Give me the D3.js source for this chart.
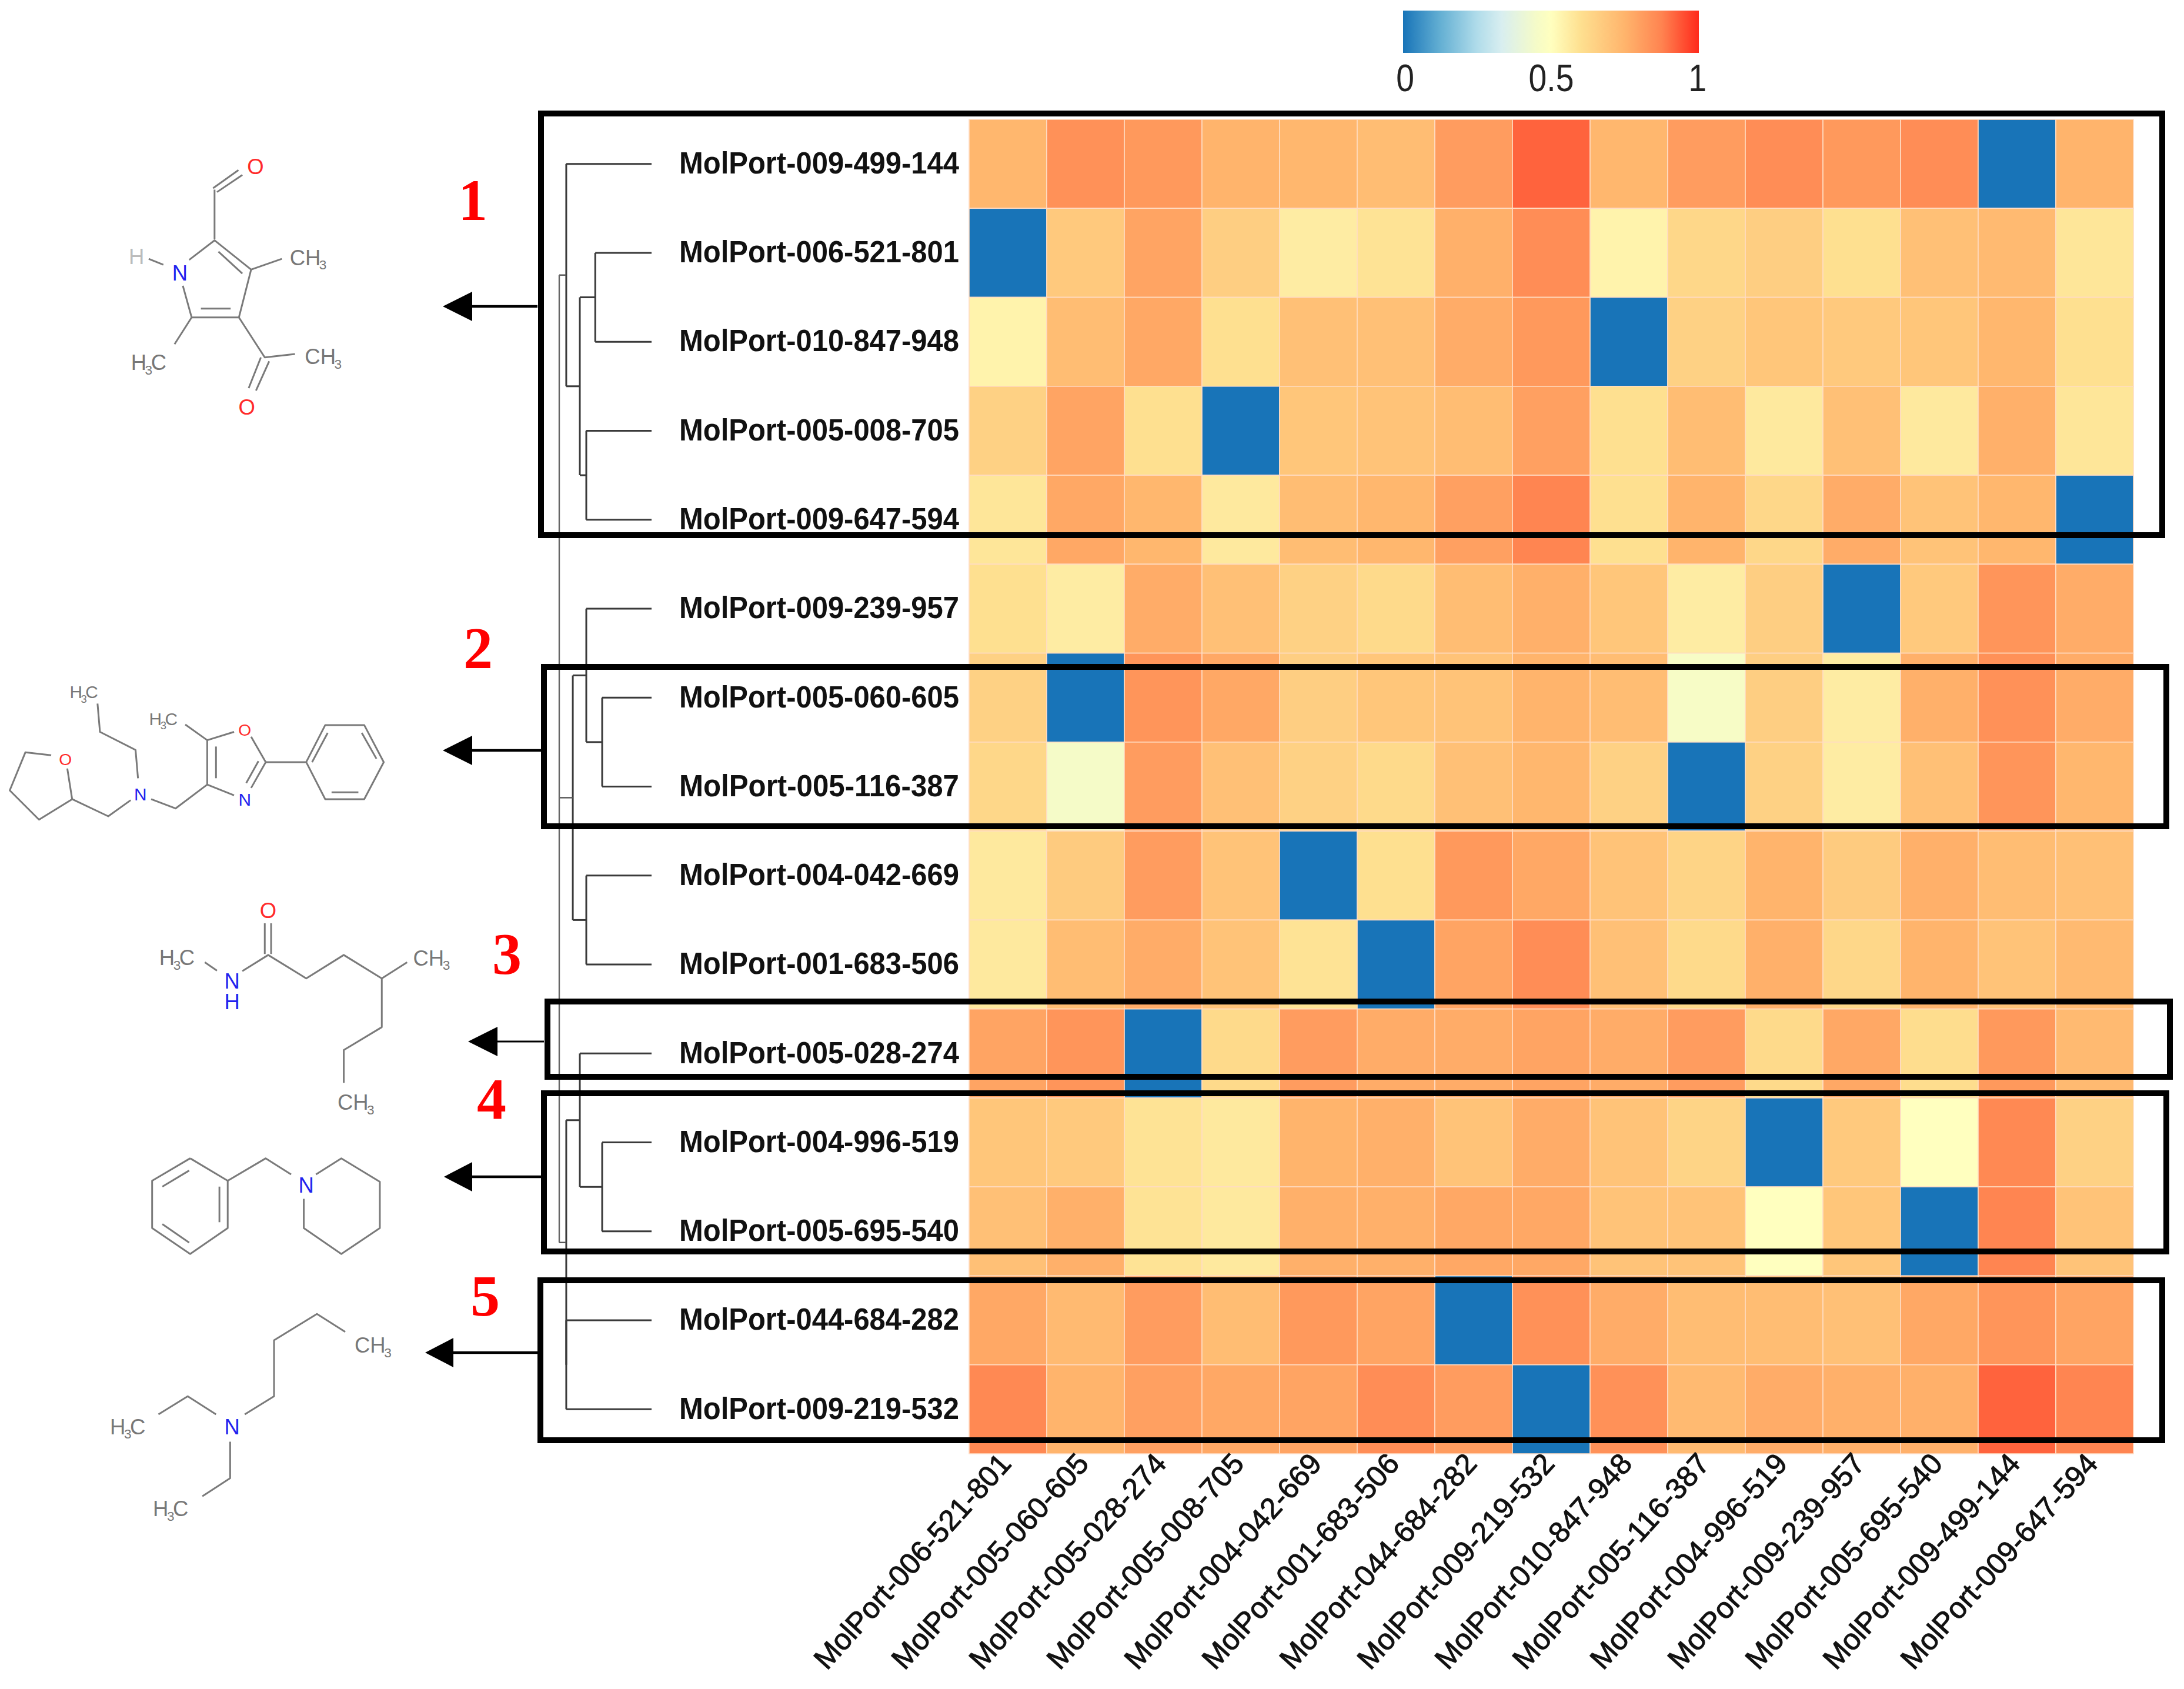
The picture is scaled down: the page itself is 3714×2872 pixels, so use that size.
<!DOCTYPE html>
<html><head><meta charset="utf-8">
<script src="https://cdnjs.cloudflare.com/ajax/libs/d3/7.8.5/d3.min.js"></script>
<style>html,body{margin:0;padding:0;background:#fff}svg{display:block}</style>
</head><body><svg id="c" width="3714" height="2872"></svg>
<script>
const rowLabels=["MolPort-009-499-144","MolPort-006-521-801","MolPort-010-847-948","MolPort-005-008-705","MolPort-009-647-594","MolPort-009-239-957","MolPort-005-060-605","MolPort-005-116-387","MolPort-004-042-669","MolPort-001-683-506","MolPort-005-028-274","MolPort-004-996-519","MolPort-005-695-540","MolPort-044-684-282","MolPort-009-219-532"];
const colLabels=["MolPort-006-521-801","MolPort-005-060-605","MolPort-005-028-274","MolPort-005-008-705","MolPort-004-042-669","MolPort-001-683-506","MolPort-044-684-282","MolPort-009-219-532","MolPort-010-847-948","MolPort-005-116-387","MolPort-004-996-519","MolPort-009-239-957","MolPort-005-695-540","MolPort-009-499-144","MolPort-009-647-594"];
const values=[
[.74,.84,.82,.75,.74,.72,.81,.92,.74,.81,.85,.82,.85,0,.75],
[0,.68,.79,.66,.56,.59,.76,.85,.54,.63,.66,.6,.71,.73,.58],
[.54,.72,.78,.6,.71,.71,.77,.82,0,.65,.69,.68,.69,.74,.6],
[.65,.79,.6,0,.69,.7,.72,.8,.6,.72,.57,.71,.57,.76,.58],
[.58,.78,.74,.57,.72,.74,.8,.87,.6,.75,.63,.77,.7,.74,0],
[.6,.56,.77,.71,.65,.62,.72,.76,.69,.56,.66,0,.68,.83,.77],
[.65,0,.83,.78,.66,.69,.7,.75,.72,.46,.66,.56,.76,.84,.77],
[.63,.45,.81,.71,.65,.62,.71,.74,.65,0,.65,.56,.71,.83,.74],
[.57,.67,.81,.7,0,.6,.82,.78,.7,.64,.75,.67,.76,.72,.71],
[.57,.72,.77,.7,.59,0,.79,.85,.71,.62,.76,.63,.75,.7,.73],
[.79,.83,0,.62,.81,.77,.77,.79,.77,.81,.62,.78,.61,.82,.73],
[.69,.68,.59,.57,.75,.76,.7,.77,.7,.64,0,.68,.5,.86,.65],
[.71,.76,.59,.57,.76,.76,.78,.78,.7,.7,.5,.69,0,.87,.7],
[.78,.73,.81,.72,.82,.79,0,.84,.77,.72,.72,.71,.78,.83,.79],
[.86,.75,.8,.78,.79,.85,.81,0,.84,.73,.77,.76,.76,.92,.87]];
const colorStops=[0,.125,.25,.333,.45,.5,.6,.75,.875,1];
const colorRange=["#1874b8","#63afd3","#b0dcea","#d8eef0","#f5fbc8","#ffffbf","#fee090","#ffb46c","#ff8350","#ff2a1c"];
const legendTicks=[0,.5,1];
// dendrogram: [height, ...children]; a plain number is a row index
const tree=[1,
 [.924,0,[.777,[.61,1,2],[.707,3,4]]],
 [.853,[.707,5,[.535,6,7]],[.707,8,9]],
 [.924,[.777,10,[.535,11,12]],[.924,13,14]]];
const clusterNames=["1","2","3","4","5"];
const clusterBoxes=[[920,193,3677,910],[925,1134,3684,1405],[931,1703,3690,1831],[925,1859,3684,2128],[919,2177,3677,2449]];
const clusterNumbers=[[804,374],[813,1135],[862,1655],[836,1902],[825,2237]];
const clusterArrows=[[753,803,914,521,4.5],[753,803,925,1276,4.5],[796,846,925,1771,3],[755,803,920,2001,4.5],[723,771,915,2300,4.5]];

const svg=d3.select("#c");
const X=d3.scaleBand().domain(d3.range(colLabels.length)).range([1648,3628]);
const Y=d3.scaleBand().domain(d3.range(rowLabels.length)).range([203,2472]);
const color=d3.scaleLinear().domain(colorStops).range(colorRange).clamp(true);
const defs=svg.append("defs");

// heatmap
const cells=values.flatMap((r,i)=>r.map((v,j)=>({i,j,v})));
svg.append("g").selectAll("rect").data(cells).join("rect")
 .attr("x",d=>X(d.j)).attr("y",d=>Y(d.i)).attr("width",X.bandwidth()).attr("height",Y.bandwidth())
 .attr("fill",d=>color(d.v)).attr("stroke","#ffdcc4").attr("stroke-width",1.6);

// row labels
const rowAxis=d3.axisLeft(d3.scaleBand().domain(rowLabels).range(Y.range())).tickSize(0).tickPadding(0);
const ra=svg.append("g").attr("transform","translate(1155,0)").call(rowAxis);
ra.select(".domain").remove();
ra.selectAll("text").attr("font-family","Liberation Sans").attr("font-weight","bold").attr("font-size",51).attr("fill","#111")
 .attr("text-anchor","start").attr("x",0)
 .attr("textLength",476).attr("lengthAdjust","spacingAndGlyphs");

// column labels
const colAxis=d3.axisBottom(d3.scaleBand().domain(colLabels).range(X.range())).tickSize(0).tickPadding(0);
const ca=svg.append("g").attr("transform","translate(0,2472)").call(colAxis);
ca.select(".domain").remove();
ca.selectAll("text").attr("font-family","Liberation Sans").attr("font-size",50).attr("fill","#111")
 .attr("stroke","#111").attr("stroke-width",1)
 .attr("text-anchor","end").attr("y",0).attr("dy",".35em")
 .attr("textLength",472).attr("lengthAdjust","spacingAndGlyphs")
 .attr("transform","translate(-5,7) rotate(-48)");

// dendrogram
const H=d3.scaleLinear().domain([0,1]).range([1108,951]);
const dg=svg.append("g").attr("fill","none").attr("stroke","#3a3a3a").attr("stroke-width",3);
function layout(n){
 if(typeof n==="number") return {h:0,y:Y(n)+Y.bandwidth()/2};
 const kids=n.slice(1).map(layout);
 const ys=kids.map(k=>k.y);
 const h=n[0];
 const isRoot=n===tree;
 kids.forEach(k=>dg.append("path").attr("d",`M${H(k.h)},${k.y}H${H(h)}`).attr("stroke-width",isRoot?2.4:3).attr("stroke",isRoot?"#555":"#3a3a3a"));
 dg.append("path").attr("d",`M${H(h)},${d3.min(ys)}V${d3.max(ys)}`).attr("stroke-width",isRoot?2.4:3).attr("stroke",isRoot?"#666":"#3a3a3a");
 return {h,y:(d3.min(ys)+d3.max(ys))/2};
}
layout(tree);

// colour legend
const grad=defs.append("linearGradient").attr("id","lg");
colorStops.forEach((s,i)=>grad.append("stop").attr("offset",s).attr("stop-color",colorRange[i]));
const L=d3.scaleLinear().domain([0,1]).range([2389,2886]);
svg.append("rect").attr("x",2386).attr("y",18).attr("width",503).attr("height",72).attr("fill","url(#lg)");
const la=svg.append("g").attr("transform","translate(0,155)").call(d3.axisBottom(L).tickValues(legendTicks).tickFormat(d3.format("")).tickSize(0).tickPadding(0));
la.select(".domain").remove();
la.selectAll("text").attr("font-family","Liberation Sans").attr("font-size",65).attr("fill","#222").attr("y",0).attr("dy",0)
 .attr("text-anchor","middle").attr("transform","scale(.85,1)");

// molecules, in a drawing space scaled to the page
const S=1/1.206;
const atomColor={O:"#ff2a2a",N:"#2222ee",H:"#bbb",C:"#777"};
function mol(oy,bonds,atoms){
 const g=svg.append("g").attr("transform",`translate(0,${oy}) scale(${S})`);
 const line=d3.line();
 g.selectAll("path").data(bonds).join("path").attr("d",d=>line(d)).attr("fill","none").attr("stroke","#7a7a7a").attr("stroke-width",3.6).attr("stroke-linejoin","round");
 atoms.forEach(([x,y,t,c,fs])=>{
  const size=fs||44;
  const tx=g.append("text").attr("x",x).attr("y",y+size*.36).attr("text-anchor","middle").attr("font-family","Liberation Sans").attr("font-size",size).attr("fill",atomColor[c]);
  let down=false;
  t.split(/(\d)/).filter(s=>s).forEach((p,i)=>{
   if(/\d/.test(p)){ tx.append("tspan").attr("font-size",size*.62).attr("dy",9).attr("dx",-3).text(p); down=true; }
   else { const sp=tx.append("tspan").text(p); if(down){sp.attr("dy",-9).attr("dx",-3); down=false;} }
  });
 });
}
mol(150,[
 [[440,310],[440,208]],[[437,205],[489,168]],[[445,213],[497,178]],
 [[388,352],[440,312],[515,372],[490,470],[393,470],[375,405]],[[448,335],[497,380]],[[412,452],[473,452]],
 [[305,350],[335,362]],[[515,372],[578,350]],[[393,470],[358,525]],[[490,470],[543,552],[605,545]],[[535,552],[510,615]],[[552,560],[525,620]]
],[[524,160,"O","O"],[280,345,"H","H"],[369,378,"N","N"],[632,347,"CH3","C"],[305,562,"H3C","C"],[663,550,"CH3","C"],[506,654,"O","O"]]);
mol(150,[
 [[200,1262],[205,1320],[278,1357],[283,1415]],[[268,1460],[222,1493],[148,1458],[80,1500],[20,1440],[52,1362],[105,1368]],[[138,1395],[148,1458]],
 [[310,1458],[360,1477],[425,1428],[425,1337],[480,1320]],[[443,1415],[443,1350]],[[515,1330],[545,1382],[515,1435]],[[530,1380],[505,1425]],[[480,1450],[425,1428]],
 [[425,1337],[380,1305]],[[545,1382],[628,1382],[667,1306],[747,1306],[787,1382],[747,1458],[667,1458],[628,1382]],
 [[640,1382],[672,1322]],[[742,1322],[772,1375]],[[680,1444],[735,1444]]
],[[172,1238,"H3C","C",36],[288,1447,"N","N",36],[134,1376,"O","O",34],[335,1293,"H3C","C",36],[502,1315,"O","O",34],[502,1458,"N","N",36]]);
mol(1400,[
 [[543,205],[543,268]],[[556,205],[556,268]],[[420,285],[445,302]],[[497,303],[550,270],[628,318],[705,270],[783,318],[835,285]],
 [[783,318],[783,418],[705,465],[705,532]]
],[[550,178,"O","O"],[476,323,"N","N"],[476,365,"H","N"],[363,275,"H3C","C"],[885,276,"CH3","C"],[730,572,"CH3","C"]]);
mol(1400,[
 [[390,687],[467,733],[467,830],[390,883],[312,830],[312,733],[390,687]],[[333,745],[388,712]],[[450,745],[450,818]],[[333,822],[388,860]],
 [[467,733],[545,687],[597,720]],[[648,720],[700,687],[779,735],[779,830],[700,883],[623,830],[623,770]]
],[[628,741,"N","N"]]);
mol(1400,[
 [[325,1212],[385,1175],[443,1212]],[[502,1212],[562,1175],[562,1060],[650,1006],[708,1043]],[[472,1268],[472,1343],[415,1380]]
],[[262,1237,"H3C","C"],[476,1237,"N","N"],[765,1070,"CH3","C"],[350,1405,"H3C","C"]]);

// cluster boxes, arrows, numbers
svg.append("g").selectAll("rect").data(clusterBoxes).join("rect")
 .attr("x",d=>d[0]).attr("y",d=>d[1]).attr("width",d=>d[2]-d[0]).attr("height",d=>d[3]-d[1])
 .attr("fill","none").attr("stroke","#000").attr("stroke-width",10);
const ag=svg.append("g");
clusterArrows.forEach(([tip,base,end,y,w])=>{
 ag.append("path").attr("d",`M${tip},${y}L${base},${y-25}V${y+25}Z`).attr("fill","#000");
 ag.append("path").attr("d",`M${base},${y}H${end}`).attr("stroke","#000").attr("stroke-width",w);
});
svg.append("g").selectAll("text").data(clusterNumbers).join("text")
 .attr("x",d=>d[0]).attr("y",d=>d[1]).attr("text-anchor","middle")
 .attr("font-family","Liberation Serif").attr("font-weight","bold").attr("font-size",100).attr("fill","#ff0000")
 .text((d,i)=>clusterNames[i]);
</script></body></html>
